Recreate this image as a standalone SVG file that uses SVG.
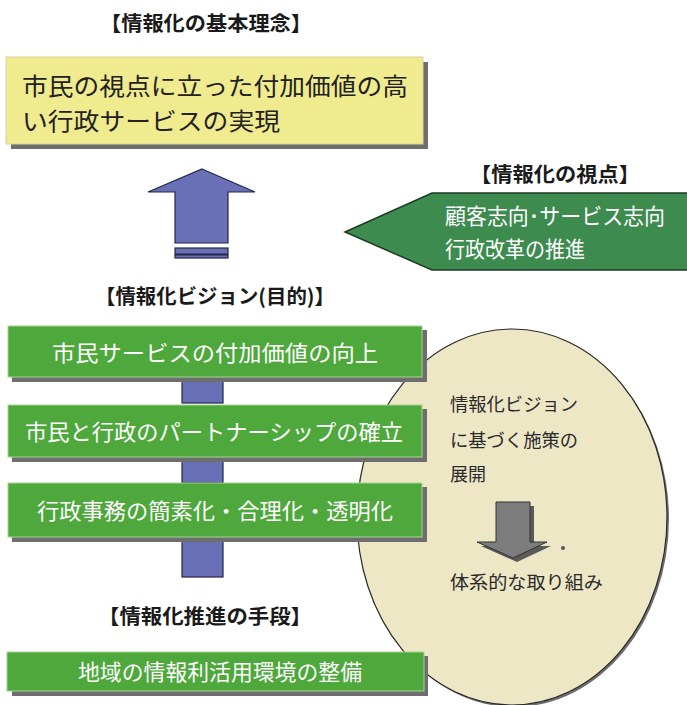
<svg xmlns="http://www.w3.org/2000/svg" width="687" height="705" viewBox="0 0 687 705">
<defs>
<style>
.lbl{font-family:"Noto Sans CJK JP","Noto Sans",sans-serif;font-weight:bold;font-size:20px;fill:#1a1a1a}
.big{font-family:"Noto Sans CJK JP","Noto Sans",sans-serif;font-size:24px;fill:#222}
.wt{font-family:"Noto Sans CJK JP","Noto Sans",sans-serif;font-size:22px;fill:#ffffff}
.el{font-family:"Noto Sans CJK JP","Noto Sans",sans-serif;font-size:18px;fill:#2a2a2a}
.gbox{fill:#4ea83c;stroke:#a6d68f;stroke-width:1}
.shadow{fill:#6e6e6e}
.conn{fill:#6a70b6;stroke:#23264a;stroke-width:1.2}
</style>
</defs>
<rect width="687" height="705" fill="#ffffff"/>

<g id="title-basic">
<text class="lbl" x="206" y="31" text-anchor="middle" font-size="21" textLength="212" lengthAdjust="spacingAndGlyphs">【情報化の基本理念】</text>
</g>

<g id="node-basic">
<rect class="shadow" x="11" y="62" width="417" height="87"/>
<rect x="6" y="57" width="417" height="87" fill="#efeb8e" stroke="#d8d49a" stroke-width="1"/>
<text class="big" x="22" y="95" textLength="386" lengthAdjust="spacingAndGlyphs">市民の視点に立った付加価値の高</text>
<text class="big" x="22" y="130" textLength="258" lengthAdjust="spacingAndGlyphs">い行政サービスの実現</text>
</g>

<g id="title-viewpoint">
<text class="lbl" x="555" y="182" text-anchor="middle" font-size="21" textLength="170" lengthAdjust="spacingAndGlyphs">【情報化の視点】</text>
</g>

<g id="node-viewpoint">
<path d="M345,232 L432,193 L690,193 L690,270 L432,270 Z" fill="#3d8b4f" stroke="#1d3a24" stroke-width="1.5"/>
<text class="wt" x="445" y="224" font-size="20" textLength="220" lengthAdjust="spacingAndGlyphs">顧客志向･サービス志向</text>
<text class="wt" x="445" y="257" font-size="20" textLength="140" lengthAdjust="spacingAndGlyphs">行政改革の推進</text>
</g>

<g id="title-vision">
<text class="lbl" x="215" y="304" text-anchor="middle" textLength="240" lengthAdjust="spacingAndGlyphs">【情報化ビジョン(目的)】</text>
</g>

<g id="node-ellipse">
<ellipse cx="514" cy="519" rx="155" ry="188" fill="#6e6e6e"/>
<ellipse cx="512" cy="517" rx="155" ry="188" fill="#ede7c6" stroke="#2a2a2a" stroke-width="1.2"/>
<text class="el" x="450" y="411" textLength="128" lengthAdjust="spacingAndGlyphs">情報化ビジョン</text>
<text class="el" x="450" y="447" textLength="128" lengthAdjust="spacingAndGlyphs">に基づく施策の</text>
<text class="el" x="450" y="481">展開</text>
<path d="M498,544 L498,504 L532,504 L532,544 L549,544 L515,560 L479,544 Z" fill="#5a5a5a" transform="translate(2,2)"/>
<path d="M496,542 L496,502 L530,502 L530,542 L547,542 L513,558 L477,542 Z" fill="#7c7c7c" stroke="#333" stroke-width="1"/>
<circle cx="563" cy="548" r="2" fill="#555"/>
<text class="el" x="450" y="589" textLength="153" lengthAdjust="spacingAndGlyphs">体系的な取り組み</text>
</g>

<g id="connectors">
<path d="M202,169 L255,192 L228,192 L228,243 L175,243 L175,192 L148,192 Z" class="conn"/>
<rect x="175" y="248" width="53" height="10" class="conn"/>
<line x1="175" y1="254.5" x2="228" y2="254.5" stroke="#23264a" stroke-width="2"/>
<rect x="182" y="381" width="41" height="22" class="conn"/>
<rect x="182" y="461" width="41" height="22" class="conn"/>
<rect x="182" y="541" width="41" height="36" class="conn"/>
</g>

<g id="node-v1">
<rect class="shadow" x="12" y="330" width="415" height="52"/>
<rect class="gbox" x="8" y="326" width="414" height="51"/>
<text class="wt" x="215" y="361" text-anchor="middle" font-size="25" textLength="326" lengthAdjust="spacingAndGlyphs">市民サービスの付加価値の向上</text>
</g>

<g id="node-v2">
<rect class="shadow" x="12" y="409" width="415" height="53"/>
<rect class="gbox" x="8" y="405" width="414" height="52"/>
<text class="wt" x="214" y="440" text-anchor="middle" textLength="378" lengthAdjust="spacingAndGlyphs">市民と行政のパートナーシップの確立</text>
</g>

<g id="node-v3">
<rect class="shadow" x="12" y="487" width="415" height="55"/>
<rect class="gbox" x="8" y="483" width="414" height="54"/>
<text class="wt" x="215" y="519" text-anchor="middle" textLength="356" lengthAdjust="spacingAndGlyphs">行政事務の簡素化・合理化・透明化</text>
</g>

<g id="title-means">
<text class="lbl" x="205" y="624" text-anchor="middle" font-size="21" textLength="214" lengthAdjust="spacingAndGlyphs">【情報化推進の手段】</text>
</g>

<g id="node-means">
<rect class="shadow" x="12" y="656" width="416" height="40"/>
<rect class="gbox" x="7" y="652" width="417" height="39"/>
<text class="wt" x="220" y="680" text-anchor="middle" textLength="284" lengthAdjust="spacingAndGlyphs">地域の情報利活用環境の整備</text>
</g>
</svg>
